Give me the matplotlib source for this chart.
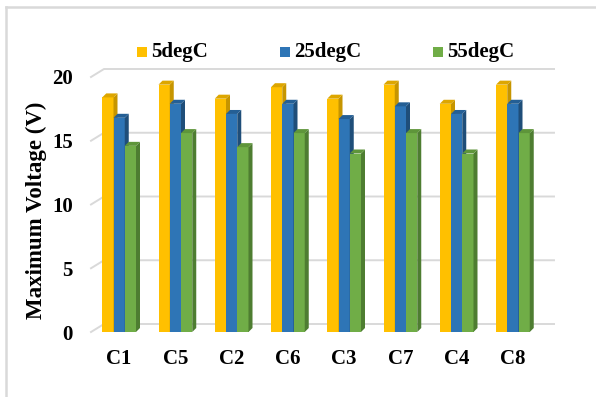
import matplotlib
matplotlib.use("Agg")
import matplotlib.pyplot as plt
from matplotlib.patches import Polygon, Rectangle
from matplotlib.lines import Line2D
import numpy as np

categories = ["C1", "C5", "C2", "C6", "C3", "C7", "C4", "C8"]
series_names = ["5degC", "25degC", "55degC"]
v_5degC = [18.4, 19.4, 18.3, 19.2, 18.3, 19.4, 17.9, 19.4]
v_25degC = [16.8, 17.9, 17.1, 17.9, 16.7, 17.7, 17.1, 17.9]
v_55degC = [14.6, 15.6, 14.5, 15.6, 14.0, 15.6, 14.0, 15.6]
yticks = [0, 5, 10, 15, 20]

series = [v_5degC, v_25degC, v_55degC]
front_cols = ["#FFC000", "#2E75B6", "#70AD47"]
side_cols = ["#C69500", "#1F4E79", "#4E7D31"]
top_cols = ["#DDA600", "#245F95", "#5E953A"]

W, H = 596, 397
fig = plt.figure(figsize=(W / 100, H / 100), dpi=100)
ax = fig.add_axes([91 / W, (H - 332) / H, 450 / W, 255 / H])
ax.set_xlim(-0.5, len(categories) - 0.5)
ax.set_ylim(0, 20)
for s in ax.spines.values():
    s.set_visible(False)

ux = (len(categories)) / 450.0  # data units per px (x)
uy = 20 / 255.0                 # data units per px (y)

# back wall gridlines
dxw, dyw = 13, 8
for v in yticks:
    ax.plot([-0.5, -0.5 + dxw * ux, len(categories) - 0.5 + dxw * ux],
            [v, v + dyw * uy, v + dyw * uy], color="#D9D9D9", lw=1.4,
            clip_on=False, zorder=0)

# pseudo-3D bars
dxb, dyb = 4 * ux, 4 * uy
x = np.arange(len(categories))
bw = 0.2
for j, vals in enumerate(series):
    off = (j - 1) * bw
    ax.bar(x + off, vals, width=bw, color=front_cols[j], zorder=2 + j,
           clip_on=False, linewidth=0)
    for xi, v in zip(x + off, vals):
        xl, xr = xi - bw / 2, xi + bw / 2
        ax.add_patch(Polygon([(xr, 0), (xr + dxb, dyb), (xr + dxb, v + dyb), (xr, v)],
                             closed=True, facecolor=side_cols[j], lw=0,
                             zorder=2 + j, clip_on=False))
        ax.add_patch(Polygon([(xl, v), (xl + dxb, v + dyb), (xr + dxb, v + dyb), (xr, v)],
                             closed=True, facecolor=top_cols[j], lw=0,
                             zorder=2 + j, clip_on=False))

font = dict(family="Liberation Serif", weight="bold")
ax.set_xticks(x)
ax.set_xticklabels(categories, fontsize=15, **font)
ax.set_yticks(yticks)
ax.set_yticklabels([str(t) for t in yticks], fontsize=15, **font)
ax.tick_params(axis="both", length=0)
ax.tick_params(axis="y", pad=13)
ax.tick_params(axis="x", pad=12)
ax.set_ylabel("Maximum Voltage (V)", fontsize=16.5, **font)
ax.yaxis.set_label_coords((47 - 91) / 450, (332 - 210) / 255)

# legend
leg_x = [137, 280, 433]
leg_y = 52
for j, name in enumerate(series_names):
    fig.add_artist(Rectangle((leg_x[j] / W, 1 - (leg_y + 5) / H), 10 / W, 10 / H,
                             transform=fig.transFigure, facecolor=front_cols[j], lw=0))
    fig.text((leg_x[j] + 14) / W, 1 - leg_y / H, name, fontsize=15, va="center",
             ha="left", **font)

# chart border (top and left)
fig.add_artist(Line2D([5.5 / W, 1], [1 - 6.5 / H, 1 - 6.5 / H], color="#D9D9D9", lw=1.8,
                      transform=fig.transFigure))
fig.add_artist(Line2D([5.5 / W, 5.5 / W], [0, 1 - 6.5 / H], color="#D9D9D9", lw=1.8,
                      transform=fig.transFigure))

fig.savefig("out.png", dpi=100)
